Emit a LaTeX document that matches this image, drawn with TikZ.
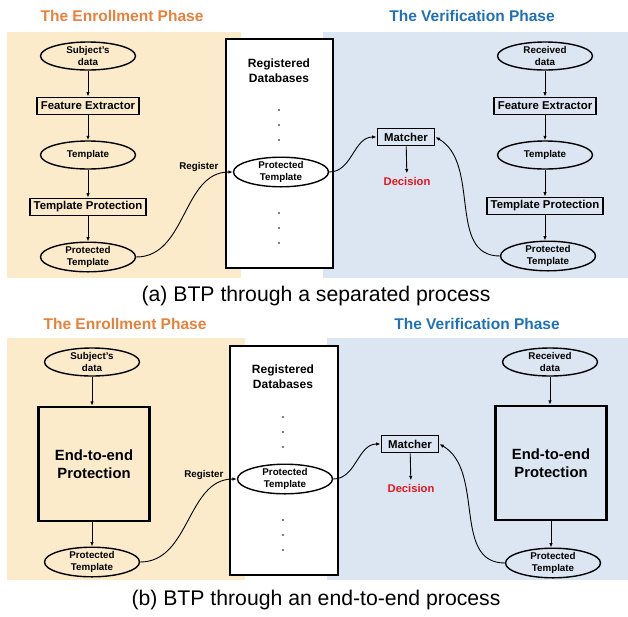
\documentclass[tikz,border=0pt]{standalone}
\usepackage{fontspec}
\setmainfont{Liberation Sans}
\usetikzlibrary{shapes.geometric, arrows.meta}

\definecolor{enrollbg}{HTML}{FCEBCB}
\definecolor{verifybg}{HTML}{DCE6F2}
\definecolor{enrollhd}{HTML}{E8803A}
\definecolor{verifyhd}{HTML}{1F70B8}
\definecolor{decred}{HTML}{E3161F}

\begin{document}
\begin{tikzpicture}[x=1pt, y=-1pt,
  ell/.style={draw, line width=1.4pt, ellipse, minimum width=95pt, minimum height=28pt,
    inner sep=0pt, align=center, font=\fontsize{9.8}{11.8}\selectfont\bfseries},
  stage/.style={draw, line width=1.8pt, minimum height=17pt, inner xsep=4pt, inner ysep=2pt,
    font=\fontsize{11.4}{13}\selectfont\bfseries},
  bigstage/.style={draw, line width=2.4pt, minimum width=111pt, minimum height=114pt,
    align=center, font=\fontsize{14.8}{17.8}\selectfont\bfseries},
  dbbox/.style={draw, line width=1.6pt, fill=white, minimum width=107pt, minimum height=229pt},
  phase/.style={font=\fontsize{15.5}{18}\selectfont\bfseries},
  regtext/.style={anchor=east, font=\fontsize{9.8}{11}\selectfont\bfseries},
  dectext/.style={text=decred, font=\fontsize{11.2}{13}\selectfont\bfseries},
  caption/.style={font=\fontsize{21.2}{24}\selectfont},
  flow/.style={-{Latex[length=4.5pt, width=3.5pt]}, line width=0.9pt},
]
  \useasboundingbox (0,0) rectangle (628,616);
  % backgrounds of the two phases
  \fill[enrollbg] (7,32) rectangle (241,278);
  \fill[verifybg] (323,32) rectangle (628,278);
  \fill[enrollbg] (7,338) rectangle (245,580);
  \fill[verifybg] (327,338) rectangle (628,580);

  % (a) separated process
  \node[phase, text=enrollhd] (a-enroll) at (122,16) {The Enrollment Phase};
  \node[phase, text=verifyhd] (a-verify) at (472,16) {The Verification Phase};
  \node[dbbox] (a-db) at (279.5,153.5) {};
  \node[align=center, font=\fontsize{12}{15}\selectfont\bfseries] (a-dbname) at (279,71) {Registered\\Databases};
  \foreach \y in {110,125,140,213,228,243} \fill (279,\y) circle (0.9pt);
  \node[ell] (a-dbtpl) at (281,172) {Protected\\Template};
  \node[ell] (a-subj) at (88,56) {Subject's\\data};
  \node[stage] (a-fe1) at (88,106) {Feature Extractor};
  \node[ell] (a-tpl1) at (88,155) {Template};
  \node[stage] (a-tp1) at (88,207) {Template Protection};
  \node[ell] (a-ptpl1) at (88,257) {Protected\\Template};
  \node[ell] (a-recv) at (545,56) {Received\\data};
  \node[stage] (a-fe2) at (545,106) {Feature Extractor};
  \node[ell] (a-tpl2) at (545,155) {Template};
  \node[stage] (a-tp2) at (545,206) {Template Protection};
  \node[ell] (a-ptpl2) at (548,256) {Protected\\Template};
  \node[stage, minimum width=57pt] (a-match) at (406,137) {Matcher};
  \node[dectext] (a-dec) at (407,181) {Decision};
  \node[regtext] (a-reg) at (222,167) {Register};
  \node[caption] (a-cap) at (316,296) {(a) BTP through a separated process};
  \draw[flow] (a-subj) -- (a-fe1);
  \draw[flow] (a-fe1) -- (a-tpl1);
  \draw[flow] (a-tpl1) -- (a-tp1);
  \draw[flow] (a-tp1) -- (a-ptpl1);
  \draw[flow] (a-recv) -- (a-fe2);
  \draw[flow] (a-fe2) -- (a-tpl2);
  \draw[flow] (a-tpl2) -- (a-tp2);
  \draw[flow] (a-tp2.south) -- (a-tp2.south |- a-ptpl2.north);
  \draw[flow] (a-ptpl1.east) to[out=0, in=180] (a-dbtpl.west);
  \draw[flow] (a-dbtpl.east) to[out=0, in=180] (a-match.west);
  \draw[flow] (a-ptpl2.west) to[out=180, in=-30] (a-match.east);
  \draw[flow] (a-match) -- (a-dec);

  % (b) end-to-end process
  \node[phase, text=enrollhd] (b-enroll) at (125,324) {The Enrollment Phase};
  \node[phase, text=verifyhd] (b-verify) at (477,324) {The Verification Phase};
  \node[dbbox, minimum width=108pt] (b-db) at (284,460.5) {};
  \node[align=center, font=\fontsize{12}{15}\selectfont\bfseries] (b-dbname) at (283,377) {Registered\\Databases};
  \foreach \y in {417,432,447,520,535,550} \fill (283,\y) circle (0.9pt);
  \node[ell] (b-dbtpl) at (285,479) {Protected\\Template};
  \node[ell] (b-subj) at (92,362) {Subject's\\data};
  \node[bigstage] (b-e2e1) at (94,464) {End-to-end\\Protection};
  \node[ell] (b-ptpl1) at (92,562) {Protected\\Template};
  \node[ell] (b-recv) at (550,362) {Received\\data};
  \node[bigstage] (b-e2e2) at (551,463) {End-to-end\\Protection};
  \node[ell] (b-ptpl2) at (553,563) {Protected\\Template};
  \node[stage, minimum width=57pt] (b-match) at (410,444) {Matcher};
  \node[dectext] (b-dec) at (411,488) {Decision};
  \node[regtext] (b-reg) at (227,475) {Register};
  \node[caption] (b-cap) at (316,600) {(b) BTP through an end-to-end process};
  \draw[flow] (b-subj) -- (b-subj |- b-e2e1.north);
  \draw[flow] (b-subj |- b-e2e1.south) -- (b-ptpl1);
  \draw[flow] (b-recv.south) -- (b-recv.south |- b-e2e2.north);
  \draw[flow] (b-e2e2) -- (b-e2e2 |- b-ptpl2.north);
  \draw[flow] (b-ptpl1.east) to[out=0, in=180] (b-dbtpl.west);
  \draw[flow] (b-dbtpl.east) to[out=0, in=180] (b-match.west);
  \draw[flow] (b-ptpl2.west) to[out=180, in=-30] (b-match.east);
  \draw[flow] (b-match) -- (b-dec);
\end{tikzpicture}
\end{document}
